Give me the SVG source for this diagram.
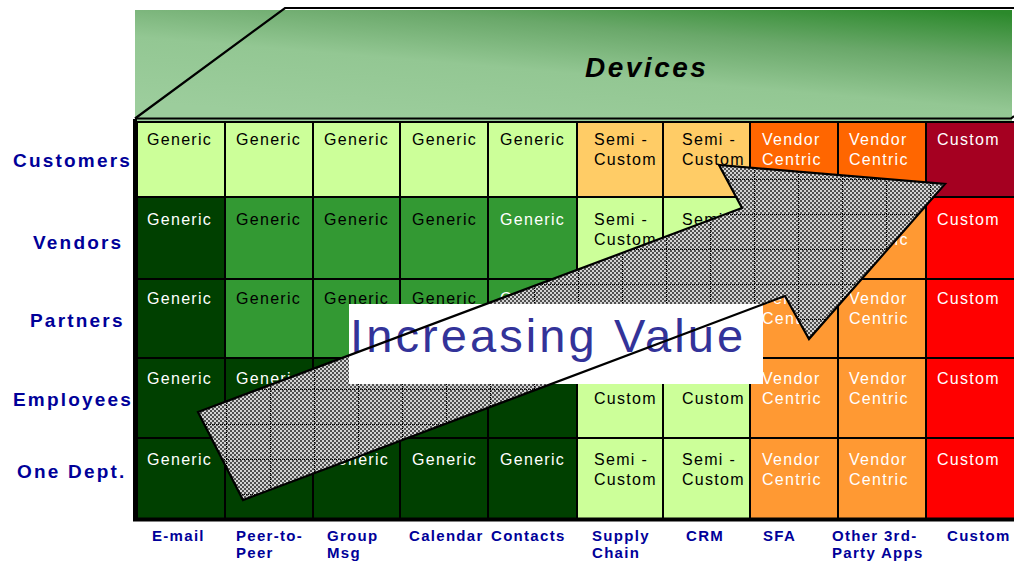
<svg xmlns="http://www.w3.org/2000/svg" width="1014" height="561" viewBox="0 0 1014 561">
<style>
.cell{stroke:#000;stroke-width:2}
.t{font-family:"Liberation Sans",Arial,sans-serif;font-size:16px;letter-spacing:1.3px}
.k{fill:#000}
.w{fill:#fff}
.row{font-family:"Liberation Sans",Arial,sans-serif;font-size:19px;font-weight:bold;letter-spacing:2.2px;fill:#000099}
.col{font-family:"Liberation Sans",Arial,sans-serif;font-size:15px;font-weight:bold;letter-spacing:1.3px;fill:#000099}
</style>
<defs>
<linearGradient id="bannerGrad" x1="0.3" y1="1" x2="0.95" y2="0">
<stop offset="0" stop-color="#9ccd9c"/>
<stop offset="0.4" stop-color="#93c793"/>
<stop offset="0.7" stop-color="#6aa86a"/>
<stop offset="1" stop-color="#2b892b"/>
</linearGradient>
<pattern id="dither" width="4" height="4" patternUnits="userSpaceOnUse">
<rect width="4" height="4" fill="#d4d4d4"/>
<rect width="2" height="2" fill="#505050"/>
<rect x="2" y="2" width="2" height="2" fill="#505050"/>
</pattern>
<pattern id="arrowGrid" width="44" height="35" patternUnits="userSpaceOnUse" x="6" y="4">
<path d="M0.5 0V35M0 0.5H44" stroke="#000" stroke-width="1" stroke-dasharray="1 1" fill="none"/>
</pattern>
</defs>

<g id="banner">
<rect x="135" y="10" width="877" height="113" fill="url(#bannerGrad)"/>
<path d="M135 118.5L285 8H1014" fill="none" stroke="#000" stroke-width="2.2"/>
<path d="M135 118.5H1011L1014 116" fill="none" stroke="#000" stroke-width="2.2"/>
<text x="585" y="77" font-family="'Liberation Sans',Arial,sans-serif" font-size="28" font-weight="bold" font-style="italic" letter-spacing="2.5">Devices</text>
</g>

<g id="grid">
<g id="r1">
<rect class="cell" x="137" y="122" width="88" height="75" fill="#ccff99"/>
<rect class="cell" x="225" y="122" width="88" height="75" fill="#ccff99"/>
<rect class="cell" x="313" y="122" width="87" height="75" fill="#ccff99"/>
<rect class="cell" x="400" y="122" width="88" height="75" fill="#ccff99"/>
<rect class="cell" x="488" y="122" width="89" height="75" fill="#ccff99"/>
<rect class="cell" x="577" y="122" width="86" height="75" fill="#ffcc66"/>
<rect class="cell" x="663" y="122" width="87" height="75" fill="#ffcc66"/>
<rect class="cell" x="750" y="122" width="88" height="75" fill="#ff6600"/>
<rect class="cell" x="838" y="122" width="88" height="75" fill="#ff6600"/>
<rect class="cell" x="926" y="122" width="90" height="75" fill="#a50021"/>
</g>
<g id="r2">
<rect class="cell" x="137" y="197" width="88" height="82" fill="#004000"/>
<rect class="cell" x="225" y="197" width="88" height="82" fill="#339933"/>
<rect class="cell" x="313" y="197" width="87" height="82" fill="#339933"/>
<rect class="cell" x="400" y="197" width="88" height="82" fill="#339933"/>
<rect class="cell" x="488" y="197" width="89" height="82" fill="#339933"/>
<rect class="cell" x="577" y="197" width="86" height="82" fill="#ccff99"/>
<rect class="cell" x="663" y="197" width="87" height="82" fill="#ccff99"/>
<rect class="cell" x="750" y="197" width="88" height="82" fill="#ff9933"/>
<rect class="cell" x="838" y="197" width="88" height="82" fill="#ff9933"/>
<rect class="cell" x="926" y="197" width="90" height="82" fill="#ff0000"/>
</g>
<g id="r3">
<rect class="cell" x="137" y="279" width="88" height="79" fill="#004000"/>
<rect class="cell" x="225" y="279" width="88" height="79" fill="#339933"/>
<rect class="cell" x="313" y="279" width="87" height="79" fill="#339933"/>
<rect class="cell" x="400" y="279" width="88" height="79" fill="#339933"/>
<rect class="cell" x="488" y="279" width="89" height="79" fill="#339933"/>
<rect class="cell" x="577" y="279" width="86" height="79" fill="#ccff99"/>
<rect class="cell" x="663" y="279" width="87" height="79" fill="#ccff99"/>
<rect class="cell" x="750" y="279" width="88" height="79" fill="#ff9933"/>
<rect class="cell" x="838" y="279" width="88" height="79" fill="#ff9933"/>
<rect class="cell" x="926" y="279" width="90" height="79" fill="#ff0000"/>
</g>
<g id="r4">
<rect class="cell" x="137" y="358" width="88" height="80" fill="#004000"/>
<rect class="cell" x="225" y="358" width="88" height="80" fill="#004000"/>
<rect class="cell" x="313" y="358" width="87" height="80" fill="#004000"/>
<rect class="cell" x="400" y="358" width="88" height="80" fill="#004000"/>
<rect class="cell" x="488" y="358" width="89" height="80" fill="#004000"/>
<rect class="cell" x="577" y="358" width="86" height="80" fill="#ccff99"/>
<rect class="cell" x="663" y="358" width="87" height="80" fill="#ccff99"/>
<rect class="cell" x="750" y="358" width="88" height="80" fill="#ff9933"/>
<rect class="cell" x="838" y="358" width="88" height="80" fill="#ff9933"/>
<rect class="cell" x="926" y="358" width="90" height="80" fill="#ff0000"/>
</g>
<g id="r5">
<rect class="cell" x="137" y="438" width="88" height="81" fill="#004000"/>
<rect class="cell" x="225" y="438" width="88" height="81" fill="#004000"/>
<rect class="cell" x="313" y="438" width="87" height="81" fill="#004000"/>
<rect class="cell" x="400" y="438" width="88" height="81" fill="#004000"/>
<rect class="cell" x="488" y="438" width="89" height="81" fill="#004000"/>
<rect class="cell" x="577" y="438" width="86" height="81" fill="#ccff99"/>
<rect class="cell" x="663" y="438" width="87" height="81" fill="#ccff99"/>
<rect class="cell" x="750" y="438" width="88" height="81" fill="#ff9933"/>
<rect class="cell" x="838" y="438" width="88" height="81" fill="#ff9933"/>
<rect class="cell" x="926" y="438" width="90" height="81" fill="#ff0000"/>
</g>
<path d="M135 119V521M133 519.5H1014" stroke="#000" stroke-width="4" fill="none"/>
</g>

<g id="cellText" class="t">
<text class="k" x="147" y="145">Generic</text>
<text class="k" x="236" y="145">Generic</text>
<text class="k" x="324" y="145">Generic</text>
<text class="k" x="412" y="145">Generic</text>
<text class="k" x="500" y="145">Generic</text>
<text class="k" x="594" y="145">Semi -</text><text class="k" x="594" y="165">Custom</text>
<text class="k" x="682" y="145">Semi -</text><text class="k" x="682" y="165">Custom</text>
<text class="w" x="762" y="145">Vendor</text><text class="w" x="762" y="165">Centric</text>
<text class="w" x="849" y="145">Vendor</text><text class="w" x="849" y="165">Centric</text>
<text class="w" x="937" y="145">Custom</text>
<text class="w" x="147" y="225">Generic</text>
<text class="k" x="236" y="225">Generic</text>
<text class="k" x="324" y="225">Generic</text>
<text class="k" x="412" y="225">Generic</text>
<text class="w" x="500" y="225">Generic</text>
<text class="k" x="594" y="225">Semi -</text><text class="k" x="594" y="245">Custom</text>
<text class="k" x="682" y="225">Semi -</text><text class="k" x="682" y="245">Custom</text>
<text class="w" x="849" y="225">Vendor</text><text class="w" x="849" y="245">Centric</text>
<text class="w" x="937" y="225">Custom</text>
<text class="w" x="147" y="304">Generic</text>
<text class="k" x="236" y="304">Generic</text>
<text class="k" x="324" y="304">Generic</text>
<text class="k" x="412" y="304">Generic</text>
<text class="w" x="500" y="304">Generic</text>
<text class="w" x="762" y="304">Vendor</text><text class="w" x="762" y="324">Centric</text>
<text class="w" x="849" y="304">Vendor</text><text class="w" x="849" y="324">Centric</text>
<text class="w" x="937" y="304">Custom</text>
<text class="w" x="147" y="384">Generic</text>
<text class="w" x="236" y="384">Generic</text>
<text class="k" x="594" y="404">Custom</text>
<text class="k" x="682" y="404">Custom</text>
<text class="w" x="762" y="384">Vendor</text><text class="w" x="762" y="404">Centric</text>
<text class="w" x="849" y="384">Vendor</text><text class="w" x="849" y="404">Centric</text>
<text class="w" x="937" y="384">Custom</text>
<text class="w" x="147" y="465">Generic</text>
<text class="w" x="324" y="465">Generic</text>
<text class="w" x="412" y="465">Generic</text>
<text class="w" x="500" y="465">Generic</text>
<text class="k" x="594" y="465">Semi -</text><text class="k" x="594" y="485">Custom</text>
<text class="k" x="682" y="465">Semi -</text><text class="k" x="682" y="485">Custom</text>
<text class="w" x="762" y="465">Vendor</text><text class="w" x="762" y="485">Centric</text>
<text class="w" x="849" y="465">Vendor</text><text class="w" x="849" y="485">Centric</text>
<text class="w" x="937" y="465">Custom</text>
</g>

<g id="rowLabels" class="row">
<text x="13" y="167">Customers</text>
<text x="33" y="249">Vendors</text>
<text x="30" y="327">Partners</text>
<text x="13" y="406">Employees</text>
<text x="17" y="478">One Dept.</text>
</g>

<g id="colLabels" class="col">
<text x="152" y="541">E-mail</text>
<text x="236" y="541">Peer-to-</text><text x="236" y="558">Peer</text>
<text x="327" y="541">Group</text><text x="327" y="558">Msg</text>
<text x="409" y="541">Calendar</text>
<text x="491" y="541">Contacts</text>
<text x="592" y="541">Supply</text><text x="592" y="558">Chain</text>
<text x="686" y="541">CRM</text>
<text x="763" y="541">SFA</text>
<text x="832" y="541">Other 3rd-</text><text x="832" y="558">Party Apps</text>
<text x="947" y="541">Custom</text>
</g>

<g id="arrow">
<polygon points="198,412 742,208 719,165 945,184 809,339 785,296 243,500" fill="url(#dither)"/>
<polygon points="198,412 742,208 719,165 945,184 809,339 785,296 243,500" fill="url(#arrowGrid)"/>
</g>

<g id="valueLabel">
<rect x="349" y="304" width="414" height="80" fill="#fff"/>
<text x="350" y="352" font-family="'Liberation Sans',Arial,sans-serif" font-size="47" letter-spacing="3.1" fill="#333399">Increasing Value</text>
</g>

<g id="arrowOutline">
<polygon points="198,412 742,208 719,165 945,184 809,339 785,296 243,500" fill="none" stroke="#000" stroke-width="2.2" stroke-linejoin="miter"/>
</g>
</svg>
